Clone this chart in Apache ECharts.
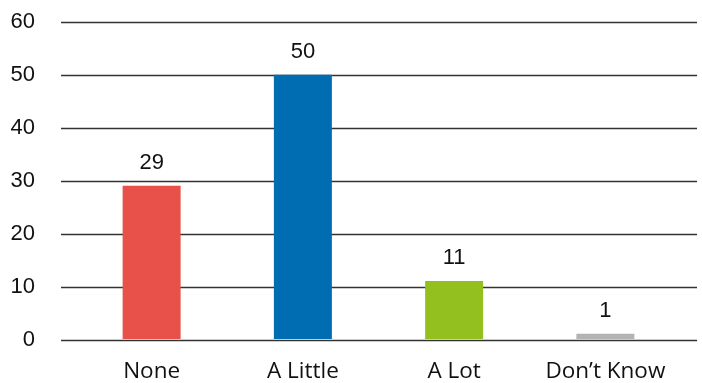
<!DOCTYPE html>
<html>
<head>
<meta charset="utf-8">
<script src="https://cdn.jsdelivr.net/npm/echarts@6/dist/echarts.min.js"></script>
<style>
  html, body { margin: 0; padding: 0; background: #fff; }
  #chart { width: 702px; height: 383px; }
</style>
</head>
<body>
<div id="chart"></div>
<script>
// Responses per answer category
const categories = ['None', 'A Little', 'A Lot', 'Don\u2019t Know'];
const counts = [29, 50, 11, 1];
const barColors = ['#e8514a', '#006cb1', '#93c01f', '#b3b3b3'];
const yTicks = [0, 10, 20, 30, 40, 50, 60];

const chart = echarts.init(document.getElementById('chart'));

chart.setOption({
  animation: false,
  grid: [
    // bars live in this grid
    { left: 76, right: 21, top: 22, bottom: 43 },
    // wider grid that carries the horizontal rules and the value labels
    { left: 61, right: 5, top: 22, bottom: 43 }
  ],
  xAxis: [
    {
      gridIndex: 0,
      type: 'category',
      data: categories,
      axisLine: { show: false },
      axisTick: { show: false },
      axisLabel: {
        interval: 0,
        margin: 21,
        fontFamily: 'Open Sans',
        fontSize: 22.5,
        color: '#111'
      }
    },
    { gridIndex: 1, type: 'value', show: false, min: 0, max: 1 }
  ],
  yAxis: [
    {
      gridIndex: 0,
      type: 'value',
      min: yTicks[0],
      max: yTicks[yTicks.length - 1],
      interval: 10,
      show: false
    },
    {
      gridIndex: 1,
      type: 'value',
      min: yTicks[0],
      max: yTicks[yTicks.length - 1],
      interval: 10,
      axisLine: { show: false },
      axisTick: { show: false },
      axisLabel: {
        margin: 26,
        fontFamily: 'Liberation Sans',
        fontSize: 22,
        color: '#111'
      },
      splitLine: { lineStyle: { color: '#333', width: 1.3 } }
    }
  ],
  series: [
    {
      type: 'bar',
      xAxisIndex: 0,
      yAxisIndex: 0,
      barWidth: 58,
      data: counts.map((v, i) => ({ value: v, itemStyle: { color: barColors[i] } })),
      label: {
        show: true,
        position: 'top',
        distance: 12,
        fontFamily: 'Liberation Sans',
        fontSize: 22,
        color: '#111'
      },
      z: 3
    }
  ]
});
</script>
</body>
</html>
